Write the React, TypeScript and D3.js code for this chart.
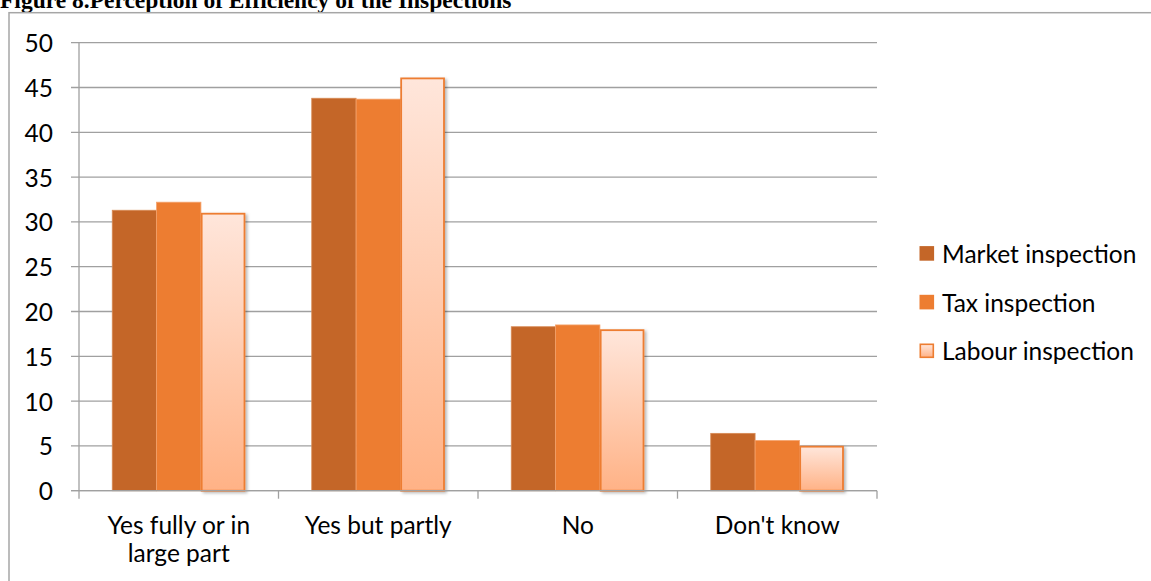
import React from "react";
import * as d3 from "d3";

// Survey answers on whether the inspections are efficient (%)
const categories: string[][] = [
  ["Yes fully or in", "large part"],
  ["Yes but partly"],
  ["No"],
  ["Don't know"],
];
const seriesNames = ["Market inspection", "Tax inspection", "Labour inspection"];
const marketValues = [31.3, 43.8, 18.3, 6.4];
const taxValues = [32.2, 43.7, 18.5, 5.6];
const labourValues = [31.0, 46.1, 18.0, 5.0];
const yTicks = [0, 5, 10, 15, 20, 25, 30, 35, 40, 45, 50];

const W = 1151;
const H = 581;
const plot = { left: 79, right: 877, top: 42.7, bottom: 490.7 };
const labelFont = "Lato, 'Open Sans', sans-serif";
const labelSize = 24.5;

const MARKET = "#C46628";
const TAX = "#ED7D31";

export default function App() {
  const keys = categories.map((c) => c.join(" "));
  const x = d3.scaleBand<string>().domain(keys).range([plot.left, plot.right]).padding(0);
  const inner = d3
    .scaleBand<string>()
    .domain(seriesNames)
    .range([0, x.bandwidth()])
    .paddingInner(0)
    .paddingOuter(0.75);
  const y = d3.scaleLinear().domain([0, 50]).range([plot.bottom, plot.top]);

  const series = [
    { name: seriesNames[0], values: marketValues },
    { name: seriesNames[1], values: taxValues },
    { name: seriesNames[2], values: labourValues },
  ];

  const boundaries = [...keys.map((k) => x(k)!), plot.right];

  return (
    <svg
      width={W}
      height={H}
      style={{ position: "absolute", left: 0, top: 0, background: "#fff" }}
    >
      <defs>
        <linearGradient id="labourFill" x1="0" y1="0" x2="0" y2="1">
          <stop offset="0%" stopColor="#FFE6DB" />
          <stop offset="100%" stopColor="#FFB286" />
        </linearGradient>
        <filter id="barShadow" x="-20%" y="-5%" width="150%" height="120%">
          <feDropShadow dx="2" dy="1.5" stdDeviation="1.8" floodColor="#000" floodOpacity="0.28" />
        </filter>
      </defs>

      {/* caption, running off the top edge of the page */}
      <text
        x={0}
        y={7.5}
        fontFamily="'Liberation Serif', 'Times New Roman', serif"
        fontWeight="bold"
        fontSize={23.5}
        fill="#000"
      >
        Figure 8.Perception of Efficiency of the Inspections
      </text>

      {/* chart frame */}
      <rect x={9} y={12.7} width={W + 20} height={H + 20} fill="none" stroke="#A6A6A6" strokeWidth={1.5} />

      {/* horizontal gridlines with left tick marks */}
      {yTicks.map((t) => (
        <line key={"g" + t} x1={71} x2={plot.right} y1={y(t)} y2={y(t)} stroke="#A0A0A0" strokeWidth={1.3} />
      ))}
      {/* value axis */}
      <line x1={plot.left} x2={plot.left} y1={plot.top} y2={plot.bottom} stroke="#A0A0A0" strokeWidth={1.3} />
      {yTicks.map((t) => (
        <text
          key={"yl" + t}
          x={53}
          y={y(t)}
          textAnchor="end"
          dominantBaseline="central"
          fontFamily={labelFont}
          fontSize={labelSize}
          fill="#000"
        >
          {t}
        </text>
      ))}

      {/* bars */}
      {series.map((s, si) =>
        s.values.map((v, ci) => {
          const bx = x(keys[ci])! + inner(s.name)!;
          const by = y(v);
          const bh = plot.bottom - by;
          const bw = inner.bandwidth();
          if (si === 0)
            return (
              <rect key={`b${si}-${ci}`} x={bx} y={by} width={bw} height={bh} fill={MARKET} stroke="#D88A55" strokeWidth={0.8} />
            );
          if (si === 1)
            return (
              <rect key={`b${si}-${ci}`} x={bx} y={by} width={bw} height={bh} fill={TAX} stroke="#F4A26B" strokeWidth={0.8} />
            );
          return (
            <rect
              key={`b${si}-${ci}`}
              x={bx + 0.75}
              y={by + 0.75}
              width={bw - 1.5}
              height={bh - 0.75}
              fill="url(#labourFill)"
              stroke={TAX}
              strokeWidth={1.8}
              filter="url(#barShadow)"
            />
          );
        })
      )}

      {/* category axis */}
      <line x1={71} x2={plot.right} y1={plot.bottom} y2={plot.bottom} stroke="#A0A0A0" strokeWidth={1.3} />
      {boundaries.map((bx, i) => (
        <line key={"xt" + i} x1={bx} x2={bx} y1={plot.bottom} y2={plot.bottom + 8} stroke="#A0A0A0" strokeWidth={1.3} />
      ))}
      {categories.map((lines, ci) => (
        <text
          key={"xl" + ci}
          x={x(keys[ci])! + x.bandwidth() / 2}
          y={534}
          textAnchor="middle"
          fontFamily={labelFont}
          fontSize={labelSize}
          fill="#000"
        >
          {lines.map((ln, li) => (
            <tspan key={li} x={x(keys[ci])! + x.bandwidth() / 2} dy={li === 0 ? 0 : 27.5}>
              {ln}
            </tspan>
          ))}
        </text>
      ))}

      {/* legend */}
      {seriesNames.map((name, i) => {
        const cy = 253.4 + i * 48.7;
        return (
          <g key={"lg" + i}>
            {i < 2 ? (
              <rect x={919.5} y={cy - 7.3} width={14.6} height={14.6} fill={i === 0 ? MARKET : TAX} />
            ) : (
              <rect x={920.3} y={cy - 6.5} width={13} height={13} fill="url(#labourFill)" stroke={TAX} strokeWidth={1.6} />
            )}
            <text x={942} y={cy} dominantBaseline="central" fontFamily={labelFont} fontSize={labelSize} fill="#000">
              {name}
            </text>
          </g>
        );
      })}
    </svg>
  );
}
